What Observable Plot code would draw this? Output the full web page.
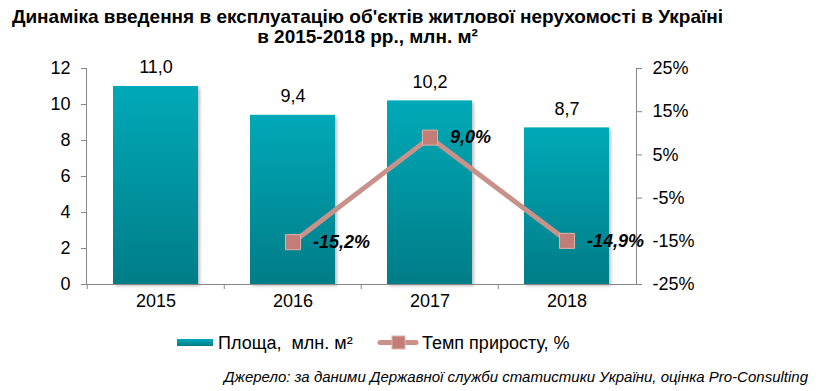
<!DOCTYPE html>
<html><head><meta charset="utf-8">
<script src="https://cdn.jsdelivr.net/npm/d3@7"></script>
<script src="https://cdn.jsdelivr.net/npm/@observablehq/plot@0.6"></script>
<style>
body{margin:0;background:#fff;font-family:"Liberation Sans",Arial,sans-serif;}
#wrap{position:relative;width:819px;height:391px;overflow:hidden;}
#title{position:absolute;left:0;top:7px;width:735px;text-align:center;font-weight:bold;font-size:19px;line-height:20px;color:#000;white-space:nowrap;}
#chart{position:absolute;left:0;top:48px;}
#legend{position:absolute;left:0;top:331px;width:819px;height:24px;color:#000;}
#caption{position:absolute;right:11px;top:368px;font-style:italic;font-size:15px;color:#000;white-space:nowrap;}
</style></head>
<body><div id="wrap">
<div id="title">Динаміка введення в експлуатацію об'єктів житлової нерухомості в Україні<br>в 2015-2018 рр., млн. м²</div>
<div id="chart"></div>
<div id="legend"></div>
<div id="caption">Джерело: за даними Державної служби статистики України, оцінка Pro-Consulting</div>
</div>
<script>
const years = ["2015","2016","2017","2018"];
const area = [11.0, 9.4, 10.2, 8.7];
const growthYears = ["2016","2017","2018"];
const growth = [-15.2, 9.0, -14.9];
const leftTicks = [0,2,4,6,8,10,12];
const rightTicks = [-25,-15,-5,5,15,25];
const legendLabels = ["Площа,  млн. м²", "Темп приросту, %"];

const pctMin = -25, pctMax = 25, yMax = 12;
const toLeft = p => (p - pctMin) / (pctMax - pctMin) * yMax;
const toPct = v => v / yMax * (pctMax - pctMin) + pctMin;
const comma = (v, d) => v.toFixed(d).replace(".", ",");

const bars = years.map((y, i) => ({year: y, value: area[i]}));
const rates = growthYears.map((y, i) => ({year: y, pct: growth[i]}));

const axisColor = "#868686";
const lineColor = "#c8928b";
const markerFill = "#c27d76";
const markerStroke = "#dfb1aa";
const FS = 18;

const defs = () => {
  const g = d3.create("svg:defs");
  const lg = g.append("linearGradient").attr("id","barGrad").attr("x1",0).attr("y1",0).attr("x2",0).attr("y2",1);
  lg.append("stop").attr("offset","0%").attr("stop-color","#00a9b8");
  lg.append("stop").attr("offset","100%").attr("stop-color","#007d87");
  const f = g.append("filter").attr("id","shadow").attr("x","-10%").attr("y","-10%").attr("width","130%").attr("height","130%");
  f.append("feDropShadow").attr("dx",2).attr("dy",2).attr("stdDeviation",1.5).attr("flood-color","#000").attr("flood-opacity",0.25);
  return g.node();
};

const chart = Plot.plot({
  width: 819,
  height: 270,
  marginTop: 20,
  marginBottom: 34,
  marginLeft: 86,
  marginRight: 183,
  style: {fontFamily: "'Liberation Sans', Arial, sans-serif", fontSize: FS + "px", color: "#000", background: "transparent"},
  x: {domain: years, paddingInner: 0.38, paddingOuter: 0.19, axis: null},
  y: {domain: [0, yMax], axis: null},
  marks: [
    defs,
    Plot.barY(bars, {x: "year", y: "value", fill: "url(#barGrad)"}),
    Plot.frame({anchor: "left", stroke: axisColor}),
    Plot.frame({anchor: "right", stroke: axisColor}),
    Plot.ruleY([0], {stroke: axisColor}),
    Plot.axisY({ticks: leftTicks, label: null, tickSize: 5, tickPadding: 11, stroke: axisColor, fill: "#000", tickFormat: d => String(d), fontSize: FS}),
    Plot.axisY({anchor: "right", label: null, ticks: rightTicks.map(toLeft), tickSize: 5, tickPadding: 11, stroke: axisColor, fill: "#000", tickFormat: d => Math.round(toPct(d)) + "%", fontSize: FS}),
    Plot.axisX({label: null, tickSize: 0, tickPadding: 10, fill: "#000", fontSize: FS}),
    Plot.axisX({label: null, tickSize: 5, stroke: axisColor, tickFormat: () => "", dx: -68.75}),
    Plot.text(bars, {x: "year", y: "value", text: d => comma(d.value, 1), dy: -19, fontSize: FS, fill: "#000"}),
    Plot.line(rates, {x: "year", y: d => toLeft(d.pct), stroke: lineColor, strokeWidth: 5}),
    Plot.dot(rates, {x: "year", y: d => toLeft(d.pct), symbol: "square", r: 8.5, fill: markerFill, stroke: markerStroke, strokeWidth: 1}),
    Plot.text(rates, {x: "year", y: d => toLeft(d.pct), text: d => comma(d.pct, 1) + "%", dx: 20, textAnchor: "start", fontSize: FS, fontWeight: "bold", fontStyle: "italic", fill: "#000"})
  ]
});
d3.select(chart).selectAll("g[aria-label='bar'] rect").attr("filter","url(#shadow)");
document.getElementById("chart").appendChild(chart);

// Legend built from the same series names and colours
const leg = d3.select("#legend").append("svg").attr("width", 819).attr("height", 24);
const dg = leg.append("defs").append("linearGradient").attr("id","barGrad2").attr("x1",0).attr("y1",0).attr("x2",0).attr("y2",1);
dg.append("stop").attr("offset","0%").attr("stop-color","#00a9b8");
dg.append("stop").attr("offset","100%").attr("stop-color","#007d87");
const item1 = leg.append("g").attr("transform", "translate(177,0)");
item1.append("rect").attr("x",0).attr("y",8).attr("width",36).attr("height",7).attr("fill","url(#barGrad2)");
item1.append("text").attr("x",41).attr("y",18).attr("font-size",FS).style("white-space","pre").text(legendLabels[0]);
const item2 = leg.append("g").attr("transform", "translate(378,0)");
item2.append("line").attr("x1",2).attr("x2",38).attr("y1",11.5).attr("y2",11.5).attr("stroke",lineColor).attr("stroke-width",5).attr("stroke-linecap","round");
item2.append("rect").attr("x",14).attr("y",5).attr("width",13).attr("height",13).attr("fill",markerFill).attr("stroke",markerStroke);
item2.append("text").attr("x",44).attr("y",18).attr("font-size",FS).text(legendLabels[1]);
</script>
</body></html>
